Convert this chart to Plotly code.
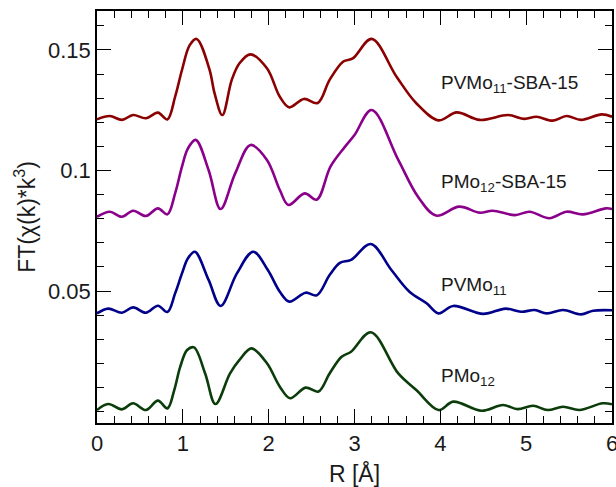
import plotly.graph_objects as go

# PMo12 (green)
x_pmo12 = [0, 0.13, 0.29, 0.42, 0.57, 0.71, 0.82, 0.90, 0.97, 1.05, 1.13, 1.26, 1.38, 1.55, 1.66, 1.80, 1.98, 2.13, 2.25, 2.43, 2.58, 2.71, 2.85, 2.96, 3.19, 3.51, 3.72, 3.98, 4.15, 4.48, 4.73, 4.90, 5.08, 5.25, 5.43, 5.62, 5.89, 6.0]
y_pmo12 = [0.0006, 0.0031, 0.0009, 0.0034, 0.0006, 0.0045, 0.0013, 0.0089, 0.0186, 0.0255, 0.0266, 0.0158, 0.0031, 0.0158, 0.0214, 0.0262, 0.0200, 0.0103, 0.0055, 0.0099, 0.0083, 0.0158, 0.0227, 0.0248, 0.0329, 0.0158, 0.0089, 0.0006, 0.0041, 0.0003, 0.0027, 0.0010, 0.0024, 0.0006, 0.0020, 0.0006, 0.0034, 0.0030]

# PVMo11 (blue)
x_pvmo11 = [0, 0.13, 0.29, 0.42, 0.57, 0.71, 0.82, 0.91, 0.99, 1.06, 1.14, 1.30, 1.44, 1.63, 1.82, 1.99, 2.13, 2.24, 2.43, 2.56, 2.71, 2.83, 2.96, 3.19, 3.43, 3.64, 3.84, 3.98, 4.15, 4.50, 4.76, 4.94, 5.10, 5.24, 5.43, 5.64, 5.78, 6.0]
y_pvmo11 = [0.0407, 0.0427, 0.0410, 0.0432, 0.0410, 0.0439, 0.0413, 0.0490, 0.0573, 0.0636, 0.0663, 0.0546, 0.0438, 0.0573, 0.0663, 0.0587, 0.0497, 0.0456, 0.0493, 0.0482, 0.0566, 0.0617, 0.0629, 0.0695, 0.0587, 0.0497, 0.0449, 0.0407, 0.0438, 0.0405, 0.0427, 0.0414, 0.0421, 0.0407, 0.0421, 0.0403, 0.0418, 0.0420]

# PMo12-SBA-15 (purple)
x_pmo12_sba = [0, 0.15, 0.29, 0.42, 0.57, 0.71, 0.82, 0.91, 0.99, 1.06, 1.15, 1.30, 1.44, 1.61, 1.79, 1.98, 2.13, 2.23, 2.42, 2.56, 2.72, 2.89, 3.00, 3.20, 3.51, 3.74, 3.95, 4.22, 4.46, 4.61, 4.87, 5.04, 5.27, 5.47, 5.66, 5.93, 6.0]
y_pmo12_sba = [0.0808, 0.0829, 0.0808, 0.0833, 0.0811, 0.0843, 0.0818, 0.0905, 0.1016, 0.1092, 0.1127, 0.1002, 0.0840, 0.0988, 0.1106, 0.1044, 0.0919, 0.0857, 0.0905, 0.0879, 0.1016, 0.1099, 0.1147, 0.1251, 0.1044, 0.0891, 0.0813, 0.0850, 0.0825, 0.0833, 0.0815, 0.0829, 0.0802, 0.0829, 0.0818, 0.0843, 0.0840]

# PVMo11-SBA-15 (dark red)
x_pvmo11_sba = [0, 0.15, 0.29, 0.42, 0.57, 0.71, 0.82, 0.91, 0.99, 1.08, 1.16, 1.31, 1.37, 1.46, 1.57, 1.66, 1.79, 1.98, 2.13, 2.24, 2.41, 2.57, 2.71, 2.87, 2.98, 3.20, 3.49, 3.72, 3.98, 4.19, 4.46, 4.79, 4.98, 5.12, 5.31, 5.47, 5.64, 5.88, 6.0]
y_pvmo11_sba = [0.1212, 0.1226, 0.1210, 0.1230, 0.1217, 0.1240, 0.1212, 0.1306, 0.1417, 0.1520, 0.1546, 0.1420, 0.1320, 0.1230, 0.1376, 0.1445, 0.1482, 0.1424, 0.1306, 0.1262, 0.1297, 0.1280, 0.1376, 0.1452, 0.1465, 0.1546, 0.1389, 0.1279, 0.1208, 0.1241, 0.1210, 0.1230, 0.1214, 0.1223, 0.1207, 0.1226, 0.1210, 0.1233, 0.1223]

labels = ["PMo<sub>12</sub>", "PVMo<sub>11</sub>", "PMo<sub>12</sub>-SBA-15", "PVMo<sub>11</sub>-SBA-15"]
label_y = [0.0143, 0.0521, 0.0948, 0.1360]
label_x = [3.98, 3.98, 3.98, 3.98]

series = [
    (x_pmo12, y_pmo12, "#0b3d0b"),
    (x_pvmo11, y_pvmo11, "#00008b"),
    (x_pmo12_sba, y_pmo12_sba, "#8b008b"),
    (x_pvmo11_sba, y_pvmo11_sba, "#8b0000"),
]

FONT = "Liberation Sans, Arial, sans-serif"

fig = go.Figure()
for (xs, ys, col), name in zip(series, labels):
    fig.add_trace(go.Scatter(x=xs, y=ys, mode="lines", name=name,
                             line=dict(color=col, width=2.6, shape="spline", smoothing=1.0),
                             showlegend=False))

for lx, ly, t in zip(label_x, label_y, labels):
    fig.add_annotation(x=lx, y=ly, text=t, showarrow=False, xanchor="left", yanchor="middle",
                       font=dict(size=19, color="#1a1a1a", family=FONT))

axis_common = dict(showline=True, linecolor="black", linewidth=1.6, mirror="ticks",
                   ticks="inside", ticklen=14, tickwidth=1.2, tickcolor="black",
                   showgrid=False, zeroline=False, automargin=False,
                   tickfont=dict(size=22, color="#1a1a1a", family=FONT))

fig.update_xaxes(range=[0, 6], dtick=1, tick0=0, ticklabeloverflow="allow",
                 minor=dict(ticks="inside", dtick=0.2, tick0=0, ticklen=7, tickwidth=1.2, tickcolor="black", showgrid=False),
                 title=dict(text="R [Å]", font=dict(size=23, color="#1a1a1a", family=FONT), standoff=22),
                 **axis_common)
fig.update_yaxes(range=[-0.00477, 0.16618], tickmode="array", tickvals=[0.05, 0.1, 0.15], ticktext=["0.05", "0.1", "0.15"],
                 minor=dict(ticks="inside", tickmode="linear", dtick=0.01, tick0=0, ticklen=7, tickwidth=1.2, tickcolor="black", showgrid=False),
                 title=dict(text="FT(χ(k)*k<sup>3</sup>)", font=dict(size=23, color="#1a1a1a", family=FONT), standoff=6),
                 **axis_common)

fig.update_layout(width=616, height=487, margin=dict(l=97, r=4, t=11, b=64),
                  paper_bgcolor="white", plot_bgcolor="white")

fig.write_html("out.html")
